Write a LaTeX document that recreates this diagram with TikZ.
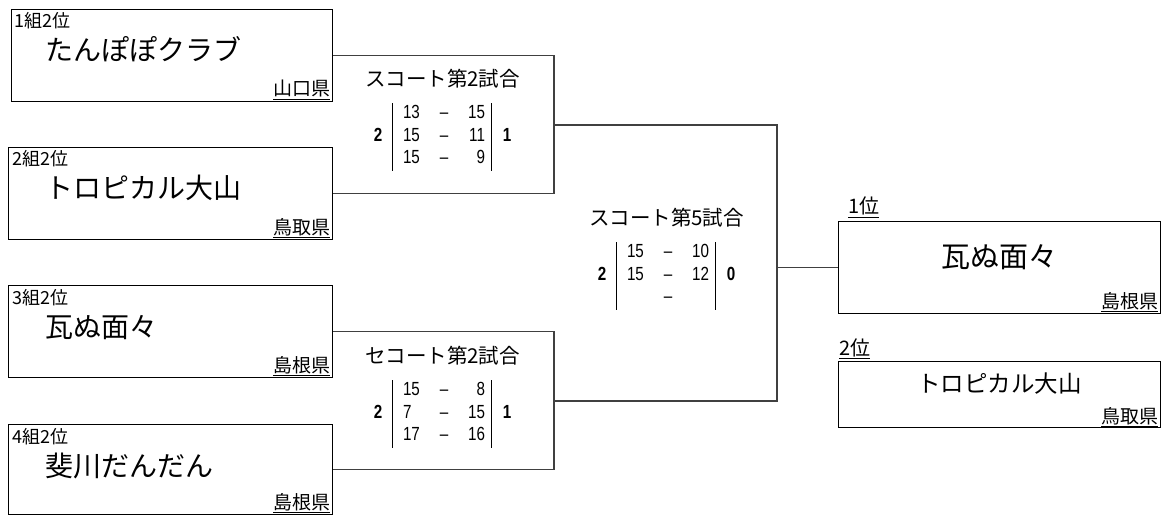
\documentclass[tikz,border=0pt]{standalone}
\usepackage{fontspec}
\setmainfont{Noto Sans CJK JP}
\newfontfamily\numfont[FakeStretch=0.8]{Liberation Sans}
\usepackage{array}
\usetikzlibrary{calc}
\renewcommand\arraystretch{1.25}
\setlength\arrayrulewidth{1pt}
\newcommand\scoretab[8]{%
\begin{tabular}{@{}w{c}{10pt}@{\hspace{9pt}}|@{\hspace{10pt}}w{l}{18pt}@{}w{c}{46pt}@{}w{r}{18pt}@{\hspace{6pt}}|@{\hspace{10pt}}w{c}{10pt}@{}}
 & #2 & – & #3 & \\
\textbf{#1} & #4 & – & #5 & \textbf{#8}\\
 & #6 & – & #7 & \\
\end{tabular}}
\tikzset{
 box/.style={draw=black, line width=1.2pt, inner sep=0pt, minimum width=324pt, minimum height=92pt, anchor=north west},
 conn/.style={draw=black!75, line width=1.4pt},
 lbl/.style={inner sep=0pt, anchor=base west, font=\fontsize{18}{20}\selectfont},
 tname/.style={inner sep=0pt, anchor=base west, font=\fontsize{28}{32}\selectfont},
 pref/.style={inner sep=0pt, anchor=base east, font=\fontsize{19}{22}\selectfont},
 rlbl/.style={inner sep=0pt, anchor=base west, font=\fontsize{20}{24}\selectfont},
 mtitle/.style={inner sep=0pt, font=\fontsize{20.5}{24}\selectfont},
 score/.style={inner sep=0pt, anchor=north, font=\numfont\fontsize{19}{18}\selectfont},
}
\begin{document}
\begin{tikzpicture}[x=1pt,y=-1pt]
\useasboundingbox (0,0) rectangle (1168,516);
% team boxes
\node[box, minimum width=321pt] (t1) at (11,9) {};
\node[box] (t2) at (8,147) {};
\node[box] (t3) at (8,285) {};
\node[box, minimum height=90pt] (t4) at (8,424) {};
% labels
\node[lbl] (t1l) at ($(t1.north west)+(3,19)$) {1組2位};
\node[lbl] (t2l) at ($(t2.north west)+(4,19)$) {2組2位};
\node[lbl] (t3l) at ($(t3.north west)+(4,19)$) {3組2位};
\node[lbl] (t4l) at ($(t4.north west)+(4,19)$) {4組2位};
\node[tname] (t1n) at ($(t1.north west)+(34,52)$) {たんぽぽクラブ};
\node[tname] (t2n) at ($(t2.north west)+(37,52)$) {トロピカル大山};
\node[tname] (t3n) at ($(t3.north west)+(37,52)$) {瓦ぬ面々};
\node[tname] (t4n) at ($(t4.north west)+(37,52)$) {斐川だんだん};
\node[pref] (t1p) at ($(t1.north east)+(-3,87)$) {\underline{山口県}};
\node[pref] (t2p) at ($(t2.north east)+(-3,87)$) {\underline{鳥取県}};
\node[pref] (t3p) at ($(t3.north east)+(-3,87)$) {\underline{島根県}};
\node[pref] (t4p) at ($(t4.north east)+(-3,85)$) {\underline{島根県}};
% result boxes
\node[box, minimum width=322pt] (r1) at (838,221) {};
\node[box, minimum width=322pt, minimum height=66pt] (r2) at (838,361) {};
\node[rlbl] (r1l) at ($(r1.north west)+(10,-7)$) {\underline{1位}};
\node[rlbl] (r2l) at ($(r2.north west)+(1,-6)$) {\underline{2位}};
\node[inner sep=0pt, anchor=base, font=\fontsize{29}{33}\selectfont] (r1n) at ($(r1.north)+(0,46)$) {瓦ぬ面々};
\node[inner sep=0pt, anchor=base, font=\fontsize{23.5}{28}\selectfont] (r2n) at ($(r2.north)+(0,31)$) {トロピカル大山};
\node[pref] (r1p) at ($(r1.north east)+(-3,87)$) {\underline{島根県}};
\node[pref] (r2p) at ($(r2.north east)+(-3,62)$) {\underline{鳥取県}};
% score tables
\node[score] (m1) at (442.5,103) {\scoretab{2}{13}{15}{15}{11}{15}{9}{1}};
\node[score] (m2) at (442.5,380) {\scoretab{2}{15}{8}{7}{15}{17}{16}{1}};
\node[score] (m5) at (666.5,242) {\scoretab{2}{15}{10}{15}{12}{}{}{0}};
\node[mtitle] (m1t) at ($(m1.north)+(0,-24)$) {スコート第2試合};
\node[mtitle] (m2t) at ($(m2.north)+(0,-24)$) {セコート第2試合};
\node[mtitle] (m5t) at ($(m5.north)+(0,-24)$) {スコート第5試合};
% connectors
\coordinate (j1) at (554,125);
\coordinate (j2) at (554,401);
\coordinate (j5) at (777,263);
\draw[conn] (t1.east) -| (j1) |- (t2.east);
\draw[conn] (t3.east) -| (j2) |- (t4.east);
\draw[conn] (j1) -| (j5) |- (j2);
\draw[conn] (j5 |- r1.west) -- (r1.west);
\end{tikzpicture}
\end{document}
